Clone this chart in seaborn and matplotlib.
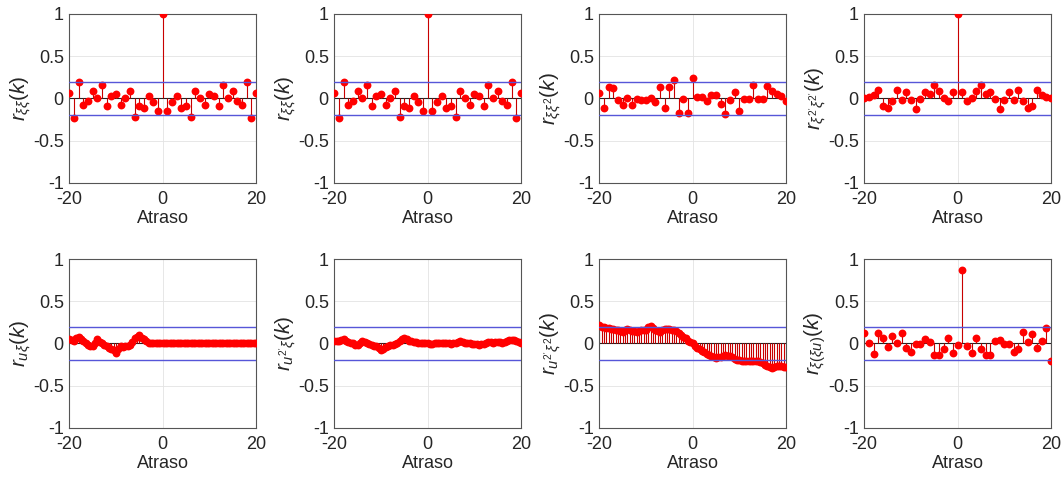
import matplotlib
matplotlib.use("Agg")
import matplotlib.pyplot as plt
import numpy as np
import seaborn as sns

# --- data (lags -20..20) ---
lags = np.arange(-20, 21)           # integer lags
lags_fine = np.arange(-20, 20.5, 0.5)  # half-step lags (bottom-left panels)
conf = 0.2                            # confidence band

r_xx = [0.06, -0.23, 0.19, -0.08, -0.03, 0.09, 0.0, 0.16, -0.09, 0.03,
        0.05, -0.08, 0.01, 0.09, -0.22, -0.09, -0.11, 0.03, -0.04, -0.15,
        1.0,
        -0.15, -0.04, 0.03, -0.11, -0.09, -0.22, 0.09, 0.01, -0.08, 0.05,
        0.03, -0.09, 0.16, 0.0, 0.09, -0.03, -0.08, 0.19, -0.23, 0.06]

r_xx2 = [0.06, -0.11, 0.14, 0.12, -0.02, -0.08, 0.01, -0.08, -0.01, -0.02,
         -0.02, 0.01, -0.04, 0.13, -0.11, 0.14, 0.22, -0.17, -0.01, -0.17,
         0.24,
         0.02, 0.02, -0.03, 0.04, 0.04, -0.07, -0.18, -0.02, 0.08, -0.15,
         -0.01, -0.01, 0.16, -0.01, -0.01, 0.15, 0.09, 0.05, 0.035, -0.03]

r_x2x2 = [0.0, 0.02, 0.04, 0.1, -0.09, -0.115, -0.03, 0.105, -0.02, 0.075,
          -0.02, -0.12, -0.01, 0.075, 0.05, 0.155, 0.09, 0.0, -0.03, 0.08,
          1.0,
          0.08, -0.03, 0.0, 0.09, 0.155, 0.05, 0.075, -0.01, -0.12, -0.02,
          0.075, -0.02, 0.105, -0.03, -0.115, -0.09, 0.1, 0.04, 0.02, 0.0]

r_ux = [0.05, 0.04, 0.035, 0.06, 0.08, 0.05, 0.03, 0.0, -0.02, -0.03,
        -0.03, 0.01, 0.05, 0.02, 0.0, -0.02, -0.03, -0.05, -0.06, -0.08,
        -0.11, -0.07, -0.035, -0.04, -0.035, -0.03, -0.02, 0.02, 0.06, 0.08,
        0.1, 0.07, 0.05, 0.03, 0.01, 0.01, 0.01, 0.01, 0.01, 0.0,
        0.0, 0.0, 0.0, 0.0, 0.0, 0.0, 0.0, 0.0, 0.0, 0.0,
        0.0, 0.0, 0.0, 0.0, 0.0, 0.0, 0.0, 0.0, 0.0, 0.0,
        0.0, 0.0, 0.0, 0.0, 0.0, 0.0, 0.0, 0.0, 0.0, 0.0,
        0.0, 0.0, 0.0, 0.0, 0.0, 0.0, 0.0, 0.0, 0.0, 0.0, 0.0]

r_u2x = [0.035, 0.03, 0.03, 0.045, 0.05, 0.035, 0.02, 0.01, 0.0, -0.015,
         -0.02, 0.01, 0.035, 0.015, 0.0, -0.01, -0.02, -0.03, -0.035, -0.055,
         -0.075, -0.06, -0.045, -0.03, -0.02, -0.015, -0.01, 0.01, 0.035, 0.055,
         0.07, 0.05, 0.035, 0.025, 0.02, 0.015, 0.01, 0.01, 0.01, 0.005,
         0.0, -0.005, -0.005, 0.005, 0.01, 0.005, 0.0, 0.005, 0.01, 0.0,
         -0.005, 0.005, 0.01, 0.02, 0.03, 0.02, 0.01, 0.005, 0.0, -0.005,
         -0.005, -0.01, -0.02, -0.01, -0.005, 0.01, 0.02, 0.015, 0.01, 0.015,
         0.02, 0.015, 0.01, 0.02, 0.03, 0.04, 0.045, 0.04, 0.03, 0.02, 0.01]

r_u2x2 = [0.22, 0.2, 0.19, 0.185, 0.18, 0.175, 0.17, 0.165, 0.16, 0.15,
          0.14, 0.16, 0.17, 0.16, 0.15, 0.145, 0.14, 0.15, 0.155, 0.16,
          0.16, 0.19, 0.21, 0.18, 0.16, 0.15, 0.14, 0.16, 0.17, 0.17,
          0.17, 0.165, 0.16, 0.15, 0.13, 0.105, 0.08, 0.06, 0.035, 0.02,
          0.0, -0.025, -0.05, -0.07, -0.09, -0.105, -0.12, -0.135, -0.15, -0.16,
          -0.17, -0.165, -0.16, -0.15, -0.14, -0.145, -0.15, -0.165, -0.18, -0.19,
          -0.2, -0.205, -0.21, -0.21, -0.21, -0.21, -0.21, -0.205, -0.21, -0.22,
          -0.235, -0.25, -0.265, -0.28, -0.29, -0.28, -0.265, -0.265, -0.27, -0.275, -0.28]

r_x_xu = [0.13, 0.01, -0.12, 0.12, 0.06, -0.045, 0.09, 0.01, 0.12, -0.05,
          -0.1, -0.01, -0.01, 0.05, 0.02, -0.14, -0.14, -0.06, 0.07, -0.11,
          -0.02, 0.87, -0.03, -0.115, 0.06, -0.07, -0.14, -0.14, 0.03, 0.045,
          -0.01, -0.01, -0.1, -0.07, 0.14, 0.02, 0.11, -0.05, 0.035, 0.18, -0.21]

ylabels = [r"$r_{\xi\xi}(k)$", r"$r_{\xi\xi}(k)$", r"$r_{\xi\xi^2}(k)$",
           r"$r_{\xi^{2'}\xi^{2'}}(k)$", r"$r_{u\xi}(k)$", r"$r_{u^{2'}\xi}(k)$",
           r"$r_{u^{2'}\xi^2}(k)$", r"$r_{\xi(\xi u)}(k)$"]

panels = [(lags, r_xx), (lags, r_xx), (lags, r_xx2), (lags, r_x2x2),
          (lags_fine, r_ux), (lags_fine, r_u2x), (lags_fine, r_u2x2), (lags, r_x_xu)]

# --- style ---
sns.set_style("whitegrid", {"grid.color": "#e3e3e3", "axes.edgecolor": "#555555"})
plt.rcParams.update({
    "font.family": ["Liberation Sans", "DejaVu Sans"],
    "mathtext.fontset": "custom",
    "mathtext.rm": "Liberation Sans",
    "mathtext.it": "Liberation Sans:italic",
    "axes.unicode_minus": False,
})

fig, axes = plt.subplots(2, 4, figsize=(10.62, 4.79), dpi=100)
fig.subplots_adjust(left=0.0653, right=0.9896, bottom=0.1065, top=0.9708,
                    wspace=0.42, hspace=0.45)

stem_color = "#c80000"
for ax, (x, y), lab in zip(axes.flat, panels, ylabels):
    ax.axhline(0, color="#222222", lw=0.8, zorder=2)
    ax.vlines(x, 0, y, color=stem_color, lw=0.8, zorder=2)
    sns.scatterplot(x=x, y=y, ax=ax, color="red", s=32, linewidth=0, zorder=3)
    ax.axhline(conf, color="#5656d8", lw=1.0, zorder=4)
    ax.axhline(-conf, color="#5656d8", lw=1.0, zorder=4)

    ax.set_xlim(-20, 20)
    ax.set_ylim(-1, 1)
    ax.set_xticks([-20, 0, 20])
    ax.set_yticks([-1, -0.5, 0, 0.5, 1])
    ax.set_yticklabels(["-1", "-0.5", "0", "0.5", "1"])
    ax.set_xlabel("Atraso", fontsize=13, color="#262626", labelpad=1)
    ax.set_ylabel(lab, fontsize=15, color="#262626", labelpad=0)
    ax.tick_params(axis="both", labelsize=13, colors="#262626", direction="in",
                   length=2.5, width=0.6)
    ax.tick_params(axis="x", pad=6)
    ax.tick_params(axis="y", pad=4)
    ax.grid(True, lw=0.6)
    for sp in ax.spines.values():
        sp.set_linewidth(0.8)
        sp.set_color("#555555")

fig.savefig("out.png", dpi=100)
